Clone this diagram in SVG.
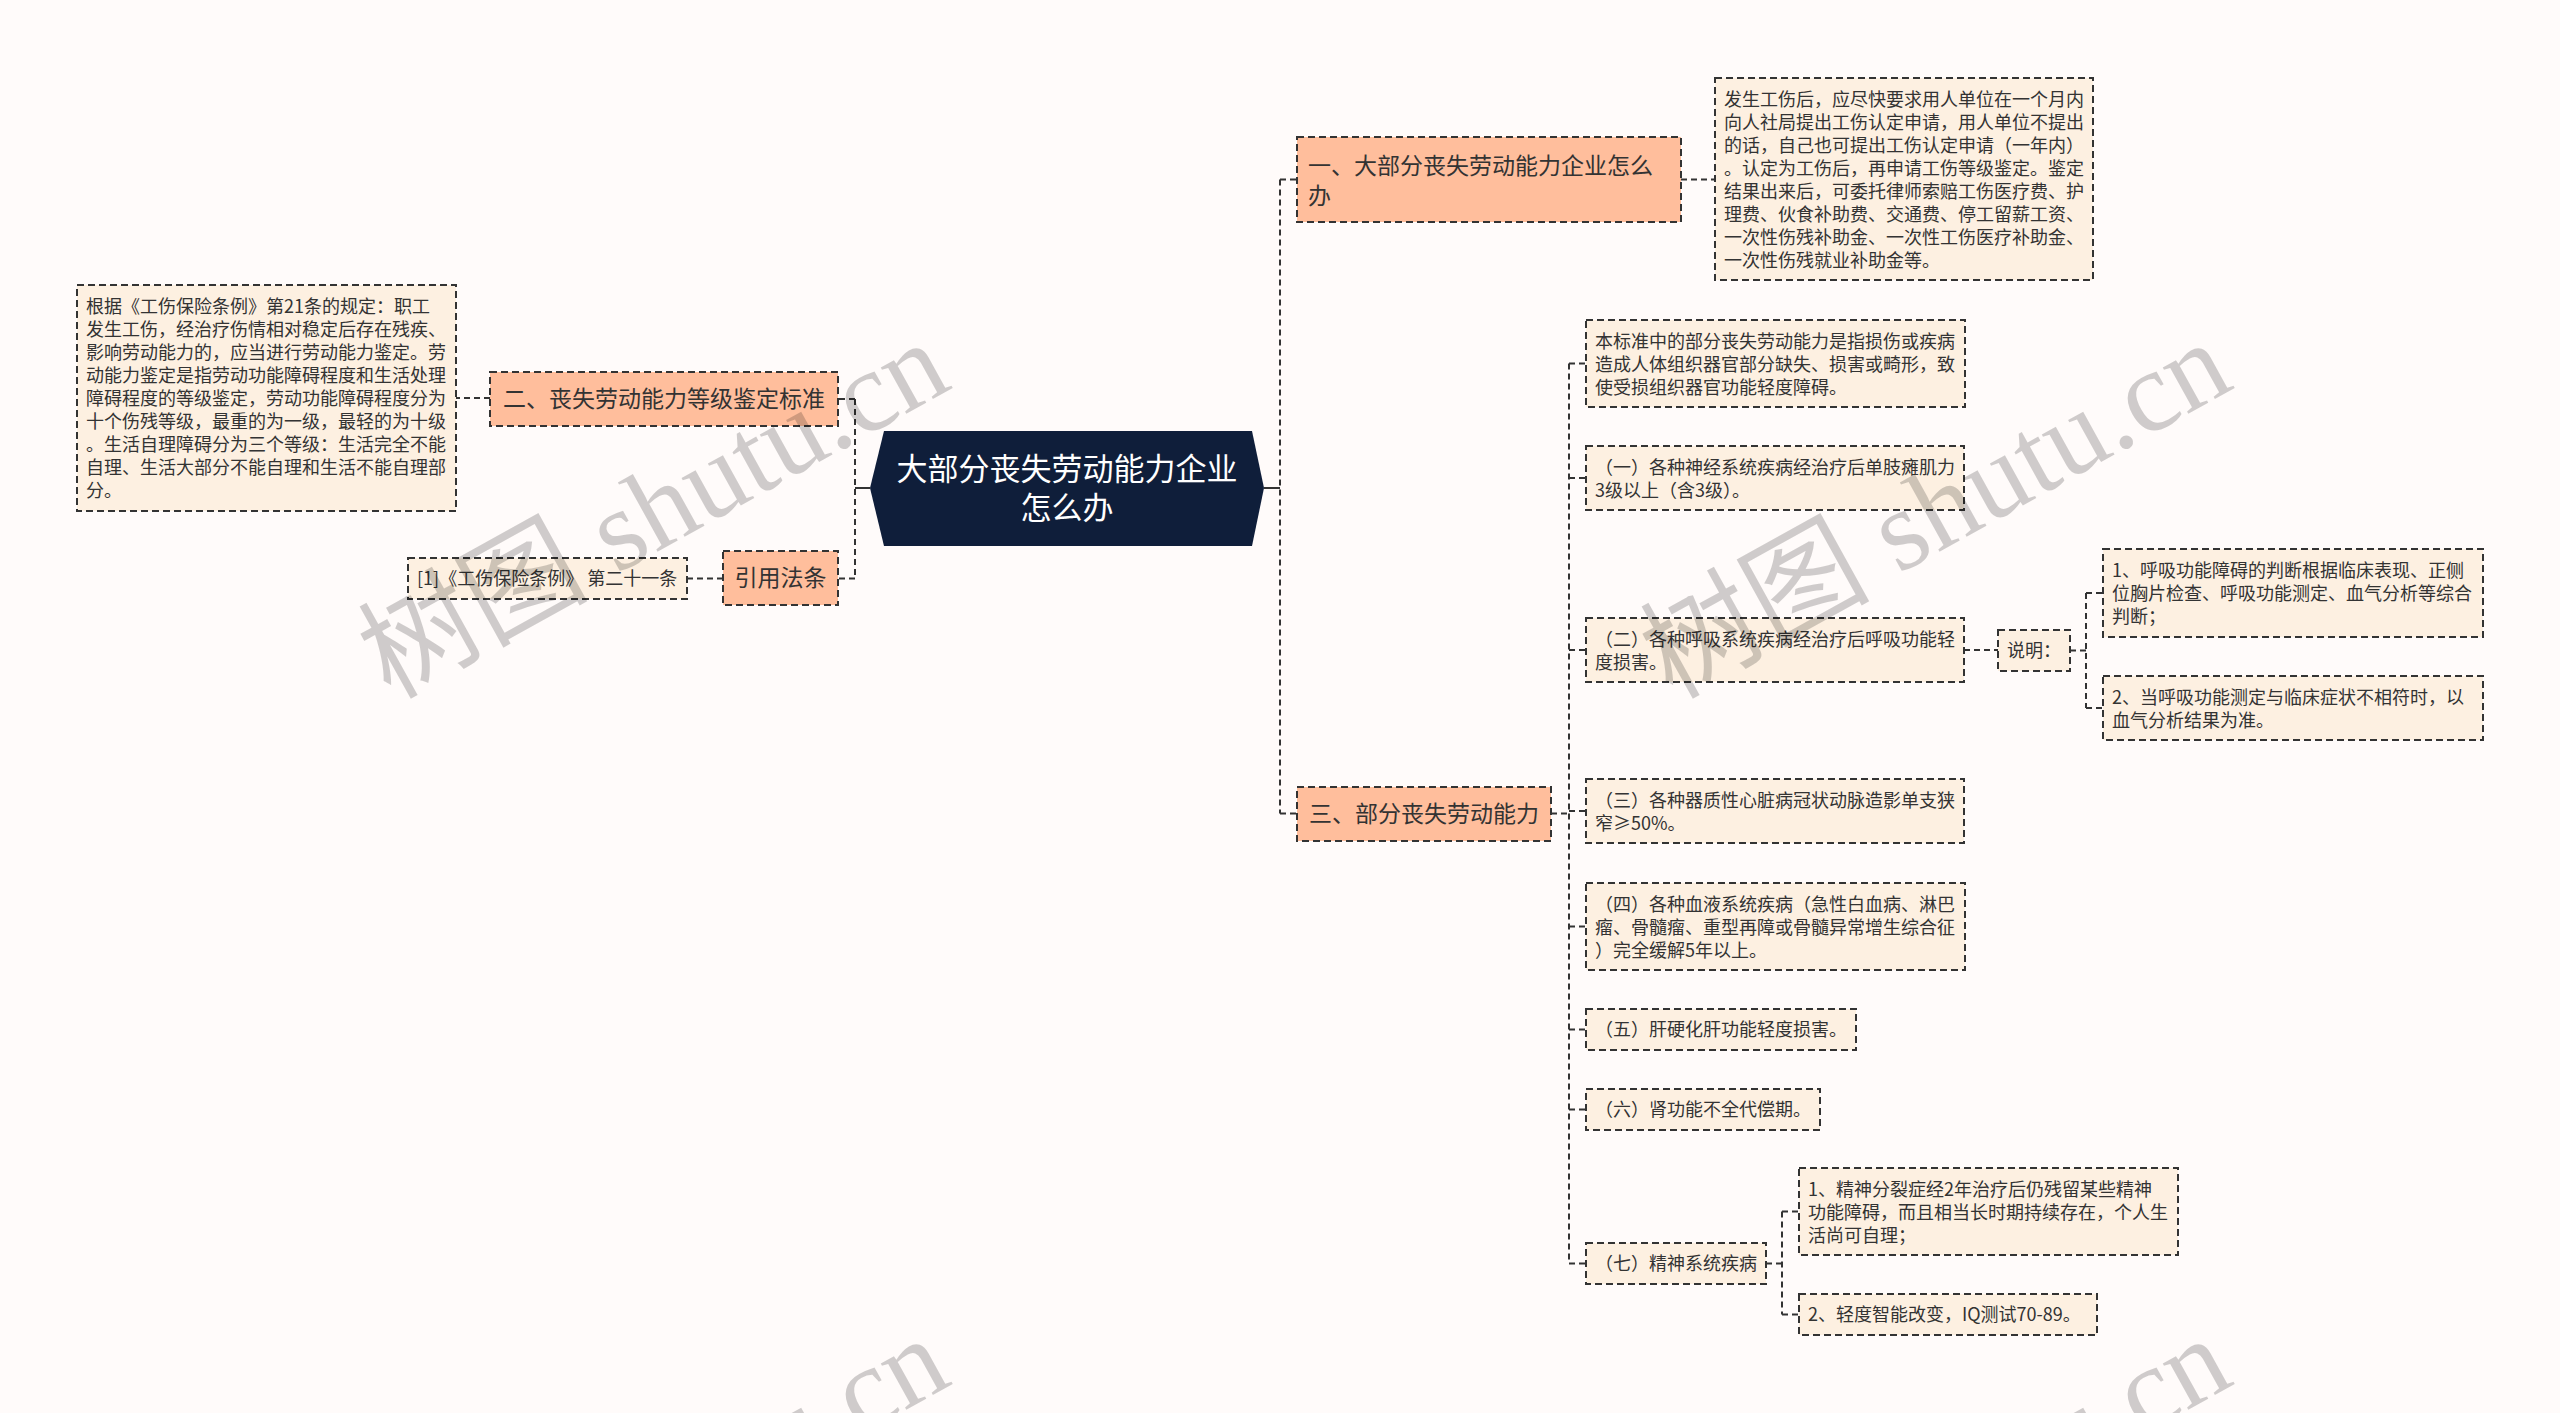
<svg xmlns="http://www.w3.org/2000/svg" width="2560" height="1413" viewBox="0 0 2560 1413">
<style>
text{font-family:"Noto Sans CJK SC","Noto Sans",sans-serif}
.n1{fill:#ffbe9c;stroke:#333;stroke-width:2;stroke-dasharray:7 4}
.lf{fill:#fdf0e1;stroke:#333;stroke-width:2;stroke-dasharray:7 4}
.t18{font-size:18px;fill:#333}
.t23{font-size:23px;fill:#333}
.tc{font-size:31px;fill:#fff;text-anchor:middle}
.c{fill:none;stroke:#333;stroke-width:2;stroke-dasharray:6 4}
.s{fill:none;stroke:#333;stroke-width:2}
.wm{font-family:"Liberation Serif","Noto Sans CJK SC",serif;font-size:115px;fill:#000;fill-opacity:0.19}
</style>
<rect width="2560" height="1413" fill="#fffbfa"/>
<g id="connectors">
<path class="s" d="M870 488H855M1264 488H1280"/>
<path class="c" d="M855 399V578.5M855 399H838M855 578.5H838"/>
<path class="c" d="M490 398H456M723 578.5H687"/>
<path class="c" d="M1280 179.5V813.5M1280 179.5H1297M1280 813.5H1297M1681 179.5H1715"/>
<path class="c" d="M1551 813.5H1569M1569 363.5V1263.5M1569 363.5H1586M1569 478H1586M1569 650H1586M1569 811H1586M1569 926.5H1586M1569 1029.5H1586M1569 1109.5H1586M1569 1263.5H1586"/>
<path class="c" d="M1964 650H1998M2070 650.5H2086M2086 593V708M2086 593H2103M2086 708H2103"/>
<path class="c" d="M1766 1263.5H1782M1782 1211.5V1314.5M1782 1211.5H1799M1782 1314.5H1799"/>
</g>
<g id="root">
<polygon points="884,431 1252,431 1264,488 1252,546 884,546 870,488" fill="#0f1e3a"/>
<text class="tc" x="1067" y="480">大部分丧失劳动能力企业</text>
<text class="tc" x="1067" y="519">怎么办</text>
</g>
<g id="n-yi">
<rect class="n1" x="1297" y="137" width="384" height="85"/>
<text class="t23" x="1308" y="174">一、大部分丧失劳动能力企业怎么</text>
<text class="t23" x="1308" y="203.5">办</text>
</g>
<g id="n-yi-detail">
<rect class="lf" x="1715" y="78" width="378" height="202"/>
<text class="t18" x="1724"><tspan x="1724" y="106">发生工伤后，应尽快要求用人单位在一个月内</tspan><tspan x="1724" y="129">向人社局提出工伤认定申请，用人单位不提出</tspan><tspan x="1724" y="152">的话，自己也可提出工伤认定申请（一年内）</tspan><tspan x="1724" y="175">。认定为工伤后，再申请工伤等级鉴定。鉴定</tspan><tspan x="1724" y="198">结果出来后，可委托律师索赔工伤医疗费、护</tspan><tspan x="1724" y="221">理费、伙食补助费、交通费、停工留薪工资、</tspan><tspan x="1724" y="244">一次性伤残补助金、一次性工伤医疗补助金、</tspan><tspan x="1724" y="267">一次性伤残就业补助金等。</tspan></text>
</g>
<g id="n-er">
<rect class="n1" x="490" y="372" width="348" height="54"/>
<text class="t23" x="503" y="406.5">二、丧失劳动能力等级鉴定标准</text>
</g>
<g id="n-er-detail">
<rect class="lf" x="77" y="285" width="379" height="226"/>
<text class="t18"><tspan x="86" y="313">根据《工伤保险条例》第21条的规定：职工</tspan><tspan x="86" y="336">发生工伤，经治疗伤情相对稳定后存在残疾、</tspan><tspan x="86" y="359">影响劳动能力的，应当进行劳动能力鉴定。劳</tspan><tspan x="86" y="382">动能力鉴定是指劳动功能障碍程度和生活处理</tspan><tspan x="86" y="405">障碍程度的等级鉴定，劳动功能障碍程度分为</tspan><tspan x="86" y="428">十个伤残等级，最重的为一级，最轻的为十级</tspan><tspan x="86" y="451">。生活自理障碍分为三个等级：生活完全不能</tspan><tspan x="86" y="474">自理、生活大部分不能自理和生活不能自理部</tspan><tspan x="86" y="497">分。</tspan></text>
</g>
<g id="n-law">
<rect class="n1" x="723" y="551" width="115" height="54"/>
<text class="t23" x="734.5" y="586">引用法条</text>
</g>
<g id="n-law-detail">
<rect class="lf" x="408" y="558" width="279" height="41"/>
<text class="t18" x="417" y="585">[1]《工伤保险条例》 第二十一条</text>
</g>
<g id="n-san">
<rect class="n1" x="1297" y="787" width="254" height="54"/>
<text class="t23" x="1309" y="821.5">三、部分丧失劳动能力</text>
</g>
<g id="leaf-0">
<rect class="lf" x="1586" y="320" width="379" height="87"/>
<text class="t18"><tspan x="1595" y="348">本标准中的部分丧失劳动能力是指损伤或疾病</tspan><tspan x="1595" y="371">造成人体组织器官部分缺失、损害或畸形，致</tspan><tspan x="1595" y="394">使受损组织器官功能轻度障碍。</tspan></text>
</g>
<g id="leaf-1">
<rect class="lf" x="1586" y="446" width="378" height="64"/>
<text class="t18"><tspan x="1595" y="474">（一）各种神经系统疾病经治疗后单肢瘫肌力</tspan><tspan x="1595" y="497">3级以上（含3级）。</tspan></text>
</g>
<g id="leaf-2">
<rect class="lf" x="1586" y="618" width="378" height="64"/>
<text class="t18"><tspan x="1595" y="646">（二）各种呼吸系统疾病经治疗后呼吸功能轻</tspan><tspan x="1595" y="669">度损害。</tspan></text>
</g>
<g id="leaf-2-note">
<rect class="lf" x="1998" y="630" width="72" height="41"/>
<text class="t18" x="2007" y="657">说明：</text>
</g>
<g id="leaf-2-note-1">
<rect class="lf" x="2103" y="549" width="380" height="88"/>
<text class="t18"><tspan x="2112" y="577">1、呼吸功能障碍的判断根据临床表现、正侧</tspan><tspan x="2112" y="600">位胸片检查、呼吸功能测定、血气分析等综合</tspan><tspan x="2112" y="623">判断；</tspan></text>
</g>
<g id="leaf-2-note-2">
<rect class="lf" x="2103" y="676" width="380" height="64"/>
<text class="t18"><tspan x="2112" y="704">2、当呼吸功能测定与临床症状不相符时，以</tspan><tspan x="2112" y="727">血气分析结果为准。</tspan></text>
</g>
<g id="leaf-3">
<rect class="lf" x="1586" y="779" width="378" height="64"/>
<text class="t18"><tspan x="1595" y="807">（三）各种器质性心脏病冠状动脉造影单支狭</tspan><tspan x="1595" y="830">窄≥50%。</tspan></text>
</g>
<g id="leaf-4">
<rect class="lf" x="1586" y="883" width="379" height="87"/>
<text class="t18"><tspan x="1595" y="911">（四）各种血液系统疾病（急性白血病、淋巴</tspan><tspan x="1595" y="934">瘤、骨髓瘤、重型再障或骨髓异常增生综合征</tspan><tspan x="1595" y="957">）完全缓解5年以上。</tspan></text>
</g>
<g id="leaf-5">
<rect class="lf" x="1586" y="1009" width="270" height="41"/>
<text class="t18" x="1595" y="1036">（五）肝硬化肝功能轻度损害。</text>
</g>
<g id="leaf-6">
<rect class="lf" x="1586" y="1089" width="234" height="41"/>
<text class="t18" x="1595" y="1116">（六）肾功能不全代偿期。</text>
</g>
<g id="leaf-7">
<rect class="lf" x="1586" y="1243" width="180" height="41"/>
<text class="t18" x="1595" y="1270">（七）精神系统疾病</text>
</g>
<g id="leaf-7-1">
<rect class="lf" x="1799" y="1168" width="379" height="87"/>
<text class="t18"><tspan x="1808" y="1196">1、精神分裂症经2年治疗后仍残留某些精神</tspan><tspan x="1808" y="1219">功能障碍，而且相当长时期持续存在，个人生</tspan><tspan x="1808" y="1242">活尚可自理；</tspan></text>
</g>
<g id="leaf-7-2">
<rect class="lf" x="1799" y="1294" width="298" height="41"/>
<text class="t18" x="1808" y="1321">2、轻度智能改变，IQ测试70-89。</text>
</g>
<g id="watermark">
<text class="wm" x="390" y="700" transform="rotate(-29 390 700)">树图 shutu.cn</text>
<text class="wm" x="1672" y="700" transform="rotate(-29 1672 700)">树图 shutu.cn</text>
<text class="wm" x="390" y="1696" transform="rotate(-29 390 1696)">树图 shutu.cn</text>
<text class="wm" x="1672" y="1696" transform="rotate(-29 1672 1696)">树图 shutu.cn</text>
</g>
</svg>
